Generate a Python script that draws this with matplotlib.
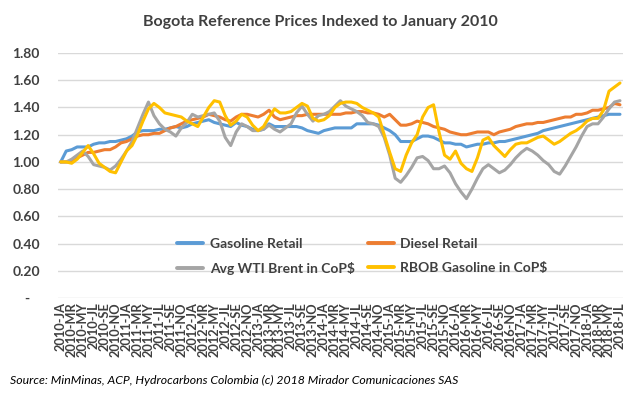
import matplotlib
matplotlib.use("Agg")
import matplotlib.pyplot as plt
import numpy as np

plt.rcParams['font.family'] = ['Lato', 'DejaVu Sans']

# month labels shown on the axis (every 2nd month, Jan 2010 .. Jul 2018)
years = list(range(2010, 2019))
month_codes = ['JA', 'FE', 'MR', 'AB', 'MY', 'JN', 'JL', 'AG', 'SE', 'OC', 'NO', 'DI']
months = [f"{y}-{m}" for y in years for m in month_codes][:103]

gasoline = [1.00, 1.08, 1.09, 1.11, 1.11, 1.11, 1.13, 1.14, 1.14, 1.15, 1.15, 1.16,
            1.17, 1.19, 1.22, 1.23, 1.23, 1.23, 1.24, 1.24, 1.25, 1.26, 1.25, 1.26,
            1.28, 1.29, 1.30, 1.31, 1.29, 1.28, 1.27, 1.26, 1.29, 1.27, 1.26, 1.24,
            1.23, 1.24, 1.28, 1.26, 1.26, 1.26, 1.26, 1.26, 1.25, 1.23, 1.22, 1.21,
            1.23, 1.24, 1.25, 1.25, 1.25, 1.25, 1.28, 1.28, 1.28, 1.28, 1.27, 1.25,
            1.23, 1.20, 1.15, 1.15, 1.15, 1.17, 1.19, 1.19, 1.18, 1.16, 1.14, 1.14,
            1.13, 1.13, 1.11, 1.12, 1.13, 1.13, 1.14, 1.14, 1.15, 1.15, 1.16, 1.17,
            1.18, 1.19, 1.20, 1.21, 1.23, 1.24, 1.25, 1.26, 1.27, 1.28, 1.29, 1.30,
            1.31, 1.32, 1.33, 1.34, 1.35, 1.35, 1.35]

diesel = [1.00, 1.00, 1.00, 1.03, 1.05, 1.07, 1.07, 1.08, 1.09, 1.09, 1.11, 1.14,
          1.15, 1.17, 1.19, 1.20, 1.20, 1.21, 1.21, 1.23, 1.25, 1.26, 1.28, 1.30,
          1.31, 1.32, 1.33, 1.35, 1.34, 1.33, 1.31, 1.30, 1.33, 1.35, 1.35, 1.34,
          1.33, 1.35, 1.38, 1.33, 1.31, 1.32, 1.33, 1.34, 1.34, 1.35, 1.35, 1.35,
          1.35, 1.35, 1.35, 1.35, 1.36, 1.36, 1.37, 1.37, 1.36, 1.36, 1.35, 1.33,
          1.35, 1.31, 1.27, 1.27, 1.28, 1.30, 1.29, 1.28, 1.26, 1.25, 1.24, 1.22,
          1.21, 1.20, 1.20, 1.21, 1.22, 1.22, 1.22, 1.20, 1.22, 1.23, 1.24, 1.26,
          1.27, 1.28, 1.28, 1.29, 1.29, 1.30, 1.31, 1.32, 1.33, 1.33, 1.35, 1.35,
          1.36, 1.38, 1.38, 1.39, 1.40, 1.43, 1.42]

wti_brent = [1.00, 1.00, 1.02, 1.05, 1.08, 1.04, 0.98, 0.97, 0.96, 0.94, 0.97, 1.02,
             1.08, 1.15, 1.25, 1.35, 1.44, 1.34, 1.28, 1.24, 1.22, 1.19, 1.25, 1.29,
             1.35, 1.33, 1.34, 1.35, 1.36, 1.30, 1.18, 1.12, 1.22, 1.28, 1.26, 1.23,
             1.23, 1.24, 1.27, 1.24, 1.22, 1.25, 1.28, 1.36, 1.41, 1.35, 1.30, 1.34,
             1.35, 1.37, 1.41, 1.45, 1.41, 1.39, 1.37, 1.34, 1.29, 1.28, 1.26, 1.18,
             1.05, 0.88, 0.85, 0.90, 0.96, 1.03, 1.04, 1.01, 0.95, 0.95, 0.97, 0.92,
             0.84, 0.78, 0.73, 0.80, 0.88, 0.95, 0.98, 0.95, 0.92, 0.94, 0.98, 1.03,
             1.07, 1.10, 1.08, 1.05, 1.01, 0.98, 0.93, 0.91, 0.97, 1.04, 1.11, 1.19,
             1.26, 1.28, 1.28, 1.33, 1.39, 1.44, 1.45]

rbob = [1.00, 1.00, 0.99, 1.02, 1.07, 1.12, 1.06, 0.99, 0.96, 0.93, 0.92, 1.00,
        1.08, 1.12, 1.20, 1.30, 1.39, 1.43, 1.40, 1.36, 1.35, 1.34, 1.33, 1.30,
        1.28, 1.26, 1.33, 1.40, 1.45, 1.44, 1.34, 1.27, 1.30, 1.35, 1.33, 1.27,
        1.23, 1.26, 1.33, 1.39, 1.36, 1.36, 1.37, 1.40, 1.43, 1.41, 1.32, 1.30,
        1.31, 1.34, 1.40, 1.43, 1.44, 1.44, 1.43, 1.40, 1.38, 1.36, 1.33, 1.20,
        1.07, 0.95, 0.93, 1.05, 1.14, 1.20, 1.33, 1.40, 1.42, 1.22, 1.05, 1.02,
        1.08, 0.99, 0.95, 0.93, 1.03, 1.16, 1.18, 1.12, 1.08, 1.04, 1.09, 1.13,
        1.14, 1.14, 1.16, 1.18, 1.19, 1.16, 1.13, 1.15, 1.18, 1.21, 1.23, 1.26,
        1.30, 1.32, 1.32, 1.38, 1.52, 1.55, 1.58]

series = [
    ("Gasoline Retail", gasoline, '#5B9BD5'),
    ("Diesel Retail", diesel, '#ED7D31'),
    ("Avg WTI Brent in CoP$", wti_brent, '#A5A5A5'),
    ("RBOB Gasoline in CoP$", rbob, '#FFC000'),
]

text_col = '#404040'

fig = plt.figure(figsize=(6.4, 3.96), dpi=100)
ax = fig.add_axes([0.0906, 0.2475, 0.8824, 0.6185])

x = np.arange(len(months))
lines = []
for name, vals, col in series:
    ln, = ax.plot(x, vals, color=col, linewidth=2.2, label=name, solid_capstyle='round')
    lines.append(ln)

ax.set_xlim(-0.5, len(months) - 0.5)
ax.set_ylim(0, 1.8)

yt = np.arange(0, 1.81, 0.2)
ax.set_yticks(yt)
ax.set_yticklabels(['-   '] + [f"{v:.2f}" for v in yt[1:]])
ax.set_xticks(x[::2])
ax.set_xticklabels(months[::2], rotation=90)

ax.tick_params(axis='y', length=0, pad=13, labelsize=10, labelcolor=text_col)
ax.tick_params(axis='x', length=0, pad=3, labelsize=9.2, labelcolor=text_col)
for lbl in ax.get_xticklabels() + ax.get_yticklabels():
    lbl.set_fontweight('bold')

ax.grid(axis='y', color='#D9D9D9', linewidth=1)
ax.set_axisbelow(True)
for sp in ax.spines.values():
    sp.set_visible(False)

# legend filled row by row like the original
order = [0, 2, 1, 3]
leg = ax.legend([lines[i] for i in order], [series[i][0] for i in order],
                ncol=2, loc='center', bbox_to_anchor=(0.566, 0.352),
                bbox_transform=fig.transFigure, frameon=False,
                fontsize=10, handlelength=1.9, handletextpad=0.45,
                columnspacing=0.95, labelspacing=0.9)
for t in leg.get_texts():
    t.set_color(text_col)
    t.set_fontweight('bold')
for h in leg.get_lines():
    h.set_linewidth(2.8)

fig.text(0.5, 0.945, "Bogota Reference Prices Indexed to January 2010",
         ha='center', va='center', fontsize=11.5, fontweight='bold', color=text_col)
fig.text(0.016, 0.038, "Source: MinMinas, ACP, Hydrocarbons Colombia (c) 2018 Mirador Comunicaciones SAS",
         ha='left', va='center', fontsize=8.8, style='italic', color='black')

fig.savefig('out.png', dpi=100)
